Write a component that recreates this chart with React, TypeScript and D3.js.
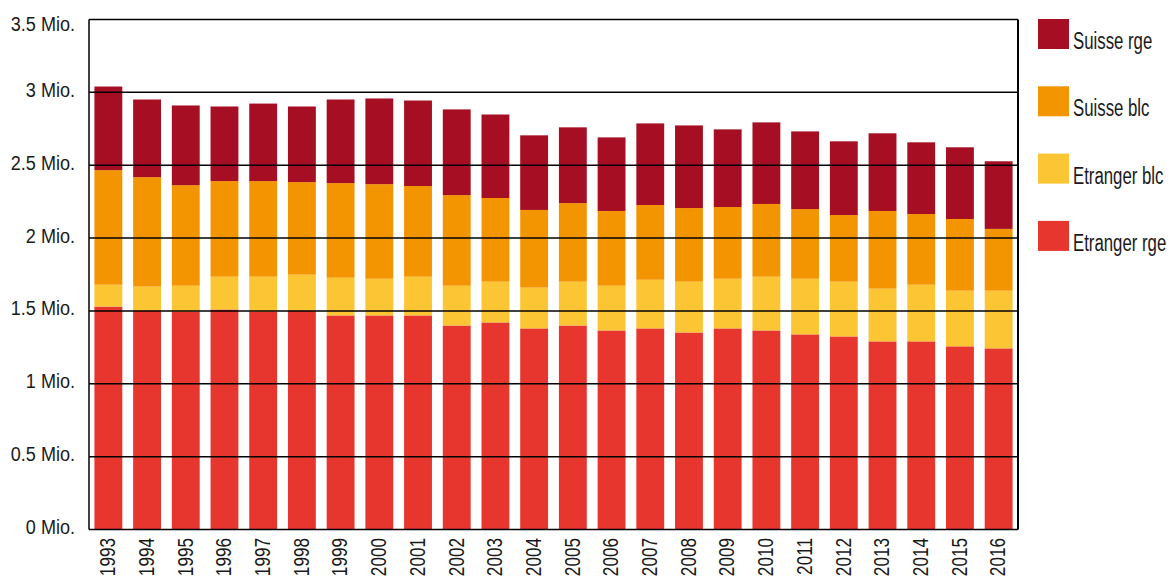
import React from "react";
import * as d3 from "d3";

const years = ["1993","1994","1995","1996","1997","1998","1999","2000","2001","2002","2003","2004","2005","2006","2007","2008","2009","2010","2011","2012","2013","2014","2015","2016"];
// values in millions
const etrangerRge = [1.530,1.503,1.496,1.510,1.496,1.503,1.469,1.469,1.469,1.400,1.421,1.380,1.400,1.366,1.380,1.352,1.380,1.366,1.339,1.325,1.291,1.291,1.257,1.243];
const etrangerBlc = [0.150,0.164,0.177,0.225,0.239,0.246,0.259,0.252,0.266,0.273,0.280,0.280,0.301,0.307,0.334,0.349,0.341,0.369,0.382,0.376,0.362,0.389,0.382,0.396];
const suisseBlc = [0.786,0.751,0.690,0.656,0.656,0.635,0.649,0.649,0.622,0.622,0.574,0.533,0.539,0.513,0.513,0.505,0.492,0.499,0.478,0.457,0.533,0.485,0.492,0.424];
const suisseRge = [0.574,0.533,0.547,0.512,0.532,0.519,0.574,0.588,0.587,0.588,0.573,0.512,0.520,0.505,0.560,0.567,0.533,0.560,0.533,0.506,0.533,0.492,0.492,0.464];
const yTicks = [0, 0.5, 1, 1.5, 2, 2.5, 3, 3.5];
const seriesNames = ["Etranger rge", "Etranger blc", "Suisse blc", "Suisse rge"];
const legendOrder = ["Suisse rge", "Suisse blc", "Etranger blc", "Etranger rge"];
const colors: Record<string, string> = {
  "Etranger rge": "#E6362E",
  "Etranger blc": "#FBC533",
  "Suisse blc": "#F39500",
  "Suisse rge": "#A60F23",
};

const FONT = "'Liberation Sans', Arial, sans-serif";

export default function App() {
  const W = 1176, H = 578;
  const left = 89, right = 1018, top = 19.5, bottom = 529.5;
  const x = d3.scaleBand<string>().domain(years).range([left, right]).paddingInner(0.28).paddingOuter(0.14);
  const y = d3.scaleLinear().domain([0, 3.5]).range([bottom, top]);
  const table = years.map((yr, i) => ({
    year: yr,
    "Etranger rge": etrangerRge[i],
    "Etranger blc": etrangerBlc[i],
    "Suisse blc": suisseBlc[i],
    "Suisse rge": suisseRge[i],
  }));
  const stacked = d3.stack<any>().keys(seriesNames)(table);

  return (
    <div style={{ position: "absolute", left: 0, top: 0 }}>
      <svg width={W} height={H} style={{ display: "block", fontFamily: FONT }}>
        <rect x={0} y={0} width={W} height={H} fill="#fff" />
        {stacked.map((s) => (
          <g key={s.key} fill={colors[s.key]}>
            {s.map((d, i) => (
              <rect key={i} x={x(years[i])} width={x.bandwidth()} y={y(d[1])} height={y(d[0]) - y(d[1])} />
            ))}
          </g>
        ))}
        {yTicks.map((t) => (
          <g key={t}>
            <line x1={left} x2={right} y1={y(t)} y2={y(t)} stroke="#000" strokeWidth={1.5} />
            <text transform={`translate(75,${Math.max(y(t) - 1, 25)}) scale(0.86,1)`} textAnchor="end" dominantBaseline="middle" fontSize={21} fill="#1a1a1a">
              {`${t} Mio.`}
            </text>
          </g>
        ))}
        <line x1={left} x2={left} y1={top} y2={bottom} stroke="#000" strokeWidth={1.5} />
        <line x1={right} x2={right} y1={top} y2={bottom} stroke="#000" strokeWidth={2} />
        {years.map((yr) => (
          <text key={yr} transform={`translate(${(x(yr) as number) + x.bandwidth() / 2 + 1},538) rotate(-90) scale(0.78,1)`}
            textAnchor="end" dominantBaseline="middle" fontSize={22} fill="#1a1a1a">
            {yr}
          </text>
        ))}
        {legendOrder.map((name, i) => (
          <g key={name} transform={`translate(1038,${19 + i * 67.3})`}>
            <rect x={0} y={0} width={31} height={30} fill={colors[name]} />
            <text transform={`translate(35,30) scale(0.73,1)`} fontSize={23} fill="#1a1a1a">{name}</text>
          </g>
        ))}
      </svg>
    </div>
  );
}
